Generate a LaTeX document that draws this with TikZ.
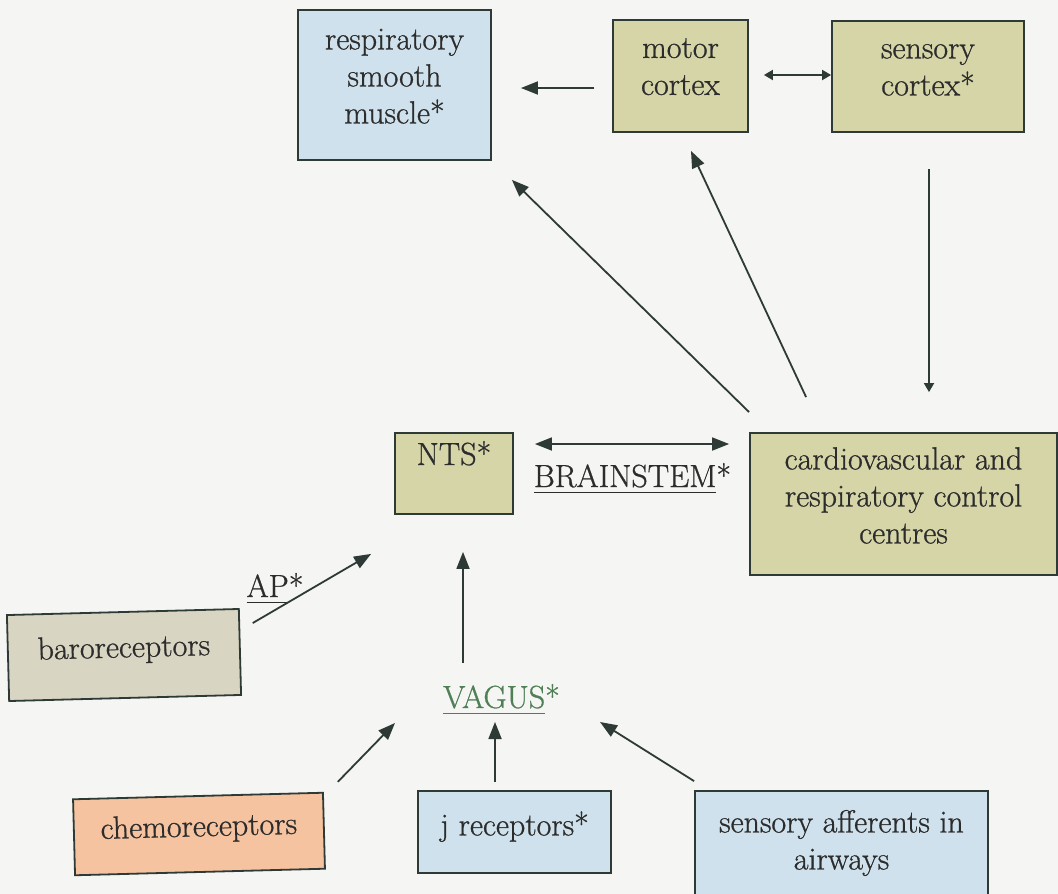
\documentclass[tikz,border=0pt]{standalone}
\usepackage{fontspec}
\newfontfamily\dfont{Latin Modern Roman}[FakeBold=0.8]
\usetikzlibrary{arrows.meta,calc}
\definecolor{bgc}{HTML}{F5F5F3}
\definecolor{bluef}{HTML}{CFE1EC}
\definecolor{olivef}{HTML}{D5D5A8}
\definecolor{barof}{HTML}{D8D5C2}
\definecolor{chemof}{HTML}{F5C3A0}
\definecolor{linec}{HTML}{2E3A36}
\definecolor{txtc}{HTML}{2C2C2C}
\definecolor{vagc}{HTML}{4F7F55}
\newcommand\myul[1]{\setbox0\hbox{#1}\rlap{\rule[-6pt]{\wd0}{1.4pt}}\box0}
\newcommand\up[2]{\raisebox{#1}[\height][\depth]{\begin{tabular}{@{}c@{}}#2\end{tabular}}}
\tikzset{
  box/.style={draw=linec, line width=1.8pt, inner sep=0pt, align=center,
    text=txtc, font=\dfont\fontsize{32}{37}\selectfont},
  lbl/.style={inner sep=0pt, text=txtc, font=\dfont\fontsize{32}{37}\selectfont},
  arr/.style={-{Triangle[length=17pt,width=13pt]}, line width=1.8pt, draw=linec},
  darr/.style={{Triangle[length=17pt,width=13pt]}-{Triangle[length=17pt,width=13pt]}, line width=1.8pt, draw=linec},
  sarr/.style={{Triangle[length=9pt,width=10pt]}-{Triangle[length=9pt,width=10pt]}, line width=1.8pt, draw=linec},
  sarrd/.style={-{Triangle[length=9pt,width=10pt]}, line width=1.8pt, draw=linec},
}
\begin{document}
\begin{tikzpicture}[x=1pt,y=-1pt]
\fill[bgc] (0,0) rectangle (1058,894);
\useasboundingbox (0,0) rectangle (1058,894);
\clip (0,0) rectangle (1058,894);
% boxes
\node[box, fill=bluef, minimum width=193pt, minimum height=150pt] (rsm) at (394.5,85) {\up{6pt}{respiratory\\smooth\\muscle*}};
\node[box, fill=olivef, minimum width=135pt, minimum height=112pt] (motor) at (680.5,76) {\up{7pt}{motor\\cortex}};
\node[box, fill=olivef, minimum width=192pt, minimum height=111pt] (sensory) at (928,76.5) {\up{7pt}{sensory\\cortex*}};
\node[box, fill=olivef, minimum width=118pt, minimum height=81pt, text height=28pt, text depth=45pt, inner ysep=4pt] (nts) at (454,473.5) {NTS*};
\node[box, fill=olivef, minimum width=307pt, minimum height=142pt] (cv) at (903.5,504) {\up{5pt}{cardiovascular and\\respiratory control\\centres}};
\node[box, fill=barof, minimum width=232pt, minimum height=86pt, rotate=1.5] (baro) at (124,655) {\up{5pt}{baroreceptors}};
\node[box, fill=chemof, minimum width=250pt, minimum height=76pt, rotate=1.5] (chemo) at (199,834) {\up{5pt}{chemoreceptors}};
\node[box, fill=bluef, minimum width=193pt, minimum height=82pt] (jrec) at (514.5,832) {\up{4pt}{j receptors*}};
\node[box, fill=bluef, minimum width=293pt, minimum height=104pt] (saf) at (841.5,843) {sensory afferents in\\airways};
% labels
\node[lbl, anchor=base] (brain) at (632.5,487) {\myul{BRAINSTEM}*};
\node[lbl, anchor=base, text=vagc] (vagus) at (501.5,708) {\myul{VAGUS}*};
\node[lbl, anchor=base] (ap) at (275,597) {\myul{AP}*};
% connectors
\draw[arr] ($(motor.west)+(-18,12)$) -- ($(rsm.east)+(29,3)$);
\draw[sarr] ($(motor.east)+(15,-1)$) -- ($(sensory.west)+(0,-1.5)$);
\draw[sarrd] ($(sensory.south)+(1,36)$) -- ($(cv.north)+(25.5,-40)$);
\draw[arr] ($(cv.north west)+(0,-20)$) -- ($(rsm.south east)+(20,19)$);
\draw[arr] ($(cv.north west)+(57,-35)$) -- ($(motor.south)+(10.5,18)$);
\draw[darr] ($(nts.east)+(21,-29.5)$) -- ($(cv.west)+(-20,-60)$);
\draw[arr] ($(vagus.base)+(-38.5,-45)$) -- ($(nts.south)+(9,37)$);
\draw[arr] ($(baro.north east)+(13,15)$) -- ($(nts.south west)+(-23,39)$);
\draw[arr] ($(chemo.north east)+(14,-10)$) -- ($(vagus.base)+(-106.5,15)$);
\draw[arr] ($(jrec.north)+(-19.5,-8)$) -- ($(vagus.base)+(-6.5,14)$);
\draw[arr] ($(saf.north west)+(0,-9)$) -- ($(vagus.base)+(98.5,14)$);
\end{tikzpicture}
\end{document}
